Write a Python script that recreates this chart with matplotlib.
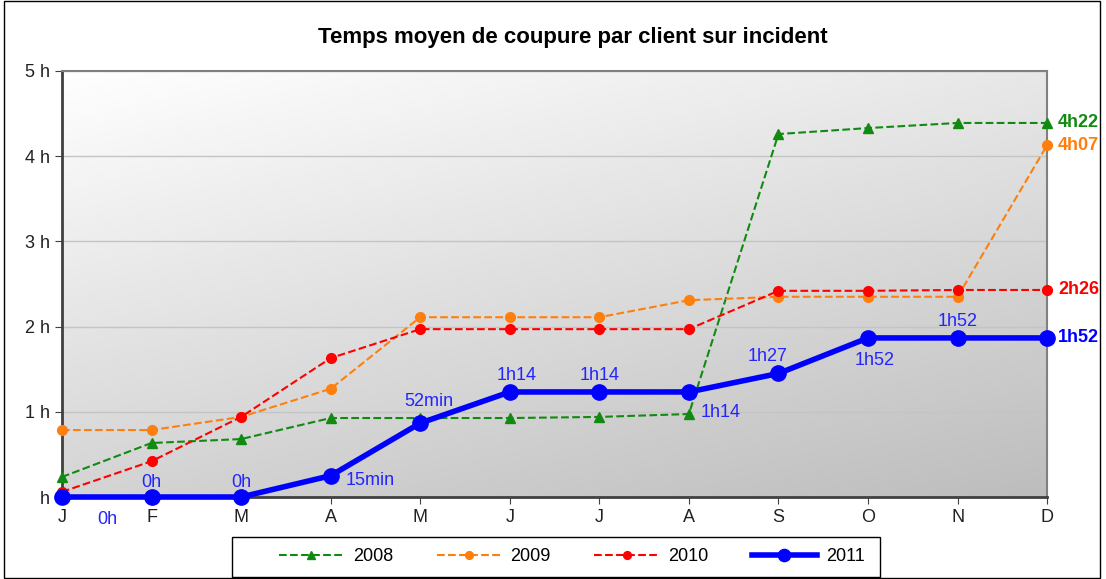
import numpy as np
import matplotlib.pyplot as plt
from matplotlib.patches import Rectangle
from matplotlib.colors import LinearSegmentedColormap

plt.rcParams['font.family'] = ['Liberation Sans', 'DejaVu Sans']

months = ['J', 'F', 'M', 'A', 'M', 'J', 'J', 'A', 'S', 'O', 'N', 'D']
ytick_labels = ['h', '1 h', '2 h', '3 h', '4 h', '5 h']

# hours
y2008 = [0.235, 0.634, 0.68, 0.927, 0.927, 0.927, 0.94, 0.974, 4.26, 4.33, 4.39, 4.39]
y2009 = [0.786, 0.786, 0.94, 1.27, 2.11, 2.11, 2.11, 2.31, 2.35, 2.35, 2.35, 4.13]
y2010 = [0.06, 0.42, 0.94, 1.63, 1.97, 1.97, 1.97, 1.97, 2.42, 2.42, 2.43, 2.43]
y2011 = [0, 0, 0, 0.25, 0.867, 1.233, 1.233, 1.233, 1.45, 1.867, 1.867, 1.867]
labels2011 = ['0h', '0h', '0h', '15min', '52min', '1h14', '1h14', '1h14', '1h27', '1h52', '1h52', '1h52']
end_labels = ['4h22', '4h07', '2h26', '1h52']

x = np.arange(len(months))

fig = plt.figure(figsize=(11.06, 5.79), dpi=100)
fig.patches.append(Rectangle((0.004, 0.002), 0.991, 0.996, transform=fig.transFigure,
                             fill=False, edgecolor='black', lw=1))
ax = fig.add_axes([0.056, 0.1416, 0.8908, 0.7358])

#gradient background for the plot area (white top-left -> grey bottom-right)
cmap = LinearSegmentedColormap.from_list('bg', ['#ffffff', '#bdbdbd'])
gx, gy = np.meshgrid(np.linspace(0, 1, 200), np.linspace(0, 1, 200))
g = 0.35 * gx + 0.65 * gy
ax.imshow(g, cmap=cmap, vmin=0, vmax=1, extent=[0, 11, 0, 5], aspect='auto',
          origin='upper', zorder=0)

ax.set_xlim(0, 11)
ax.set_ylim(0, 5)
ax.set_yticks(range(6))
ax.set_yticklabels(ytick_labels, fontsize=13, color='#222222')
ax.set_xticks(x)
ax.set_xticklabels(months, fontsize=13, color='#222222')
ax.grid(axis='y', color='#c4c4c4', lw=1, zorder=1)
for s in ['left', 'bottom']:
    ax.spines[s].set_color('#404040')
    ax.spines[s].set_linewidth(2)
for s in ['right', 'top']:
    ax.spines[s].set_color('#808080')
    ax.spines[s].set_linewidth(1.5)
ax.tick_params(length=5, color='#404040')

ax.plot(x, y2008, '--', color='#118a11', marker='^', markersize=7, lw=1.5, label='2008', zorder=3, clip_on=False)
ax.plot(x, y2009, '--', color='#ff7f0e', marker='o', markersize=7, lw=1.5, label='2009', zorder=3, clip_on=False)
ax.plot(x, y2010, '--', color='#ff0000', marker='o', markersize=7, lw=1.5, label='2010', zorder=3, clip_on=False)
ax.plot(x, y2011, '-', color='#0000ff', marker='o', markersize=11, lw=4, label='2011', zorder=4, clip_on=False)

#data labels of 2011 (offsets in pixels)
offsets = [(45, -22), (0, 15), (0, 15), (40, -5), (9, 22), (7, 16), (0, 16),
           (32, -21), (-11, 17), (7, -23), (0, 16)]
for i, (dx, dy) in enumerate(offsets):
    ax.annotate(labels2011[i], (x[i], y2011[i]), xytext=(dx, dy), textcoords='offset pixels',
                ha='center', va='center', color='#2424ff', fontsize=13, annotation_clip=False)

end_vals = [y2008[-1], y2009[-1], y2010[-1], y2011[-1]]
end_cols = ['#118a11', '#ff7f0e', '#ff0000', '#0000ff']
for lab, v, c in zip(end_labels, end_vals, end_cols):
    ax.annotate(lab, (x[-1], v), xytext=(11, 0), textcoords='offset pixels', ha='left',
                va='center', color=c, fontsize=13, fontweight='bold', annotation_clip=False)

fig.text(0.518, 0.936, 'Temps moyen de coupure par client sur incident', ha='center',
         va='center', fontsize=16, fontweight='bold')

#legend box drawn by hand, legend itself without frame
fig.patches.append(Rectangle((232 / 1106, 2 / 579), 648 / 1106, 40 / 579, transform=fig.transFigure,
                             fill=False, edgecolor='black', lw=1))
leg = fig.legend(loc='center', bbox_to_anchor=(0.517, 0.038), ncol=4, fontsize=13,
                 frameon=False, handlelength=3.6, handletextpad=0.5,
                 columnspacing=2.4, markerscale=0.8)

plt.savefig('out.png', dpi=100)
